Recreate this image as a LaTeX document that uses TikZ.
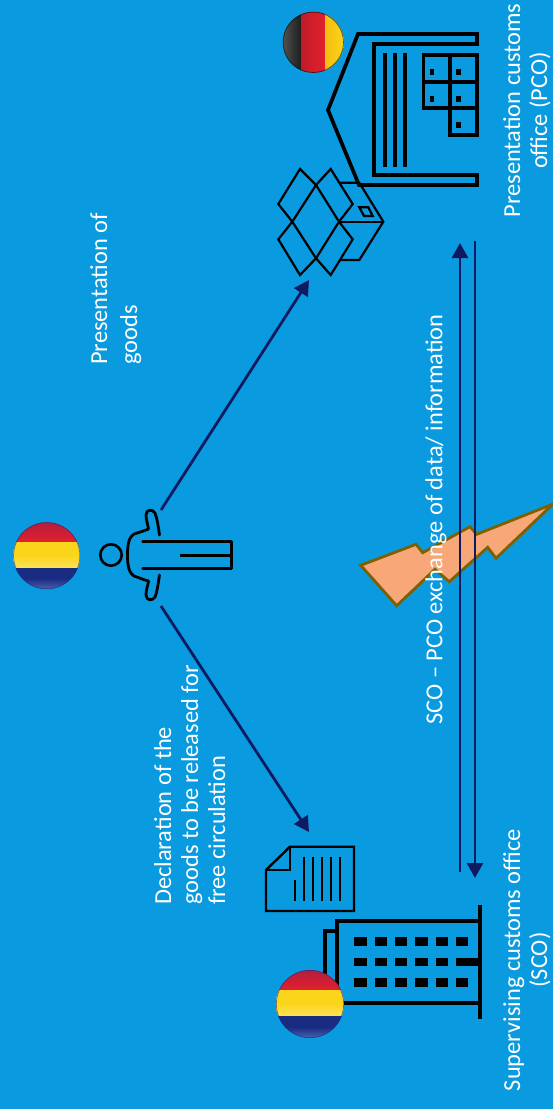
\documentclass[tikz,border=0pt]{standalone}
\usepackage{fontspec}
\setmainfont{Carlito}
\usetikzlibrary{arrows.meta}
\definecolor{bgblue}{HTML}{0A9ADF}
\definecolor{navy}{HTML}{101A60}
\definecolor{boltfill}{HTML}{F8A878}
\definecolor{boltline}{HTML}{7F6000}
\definecolor{fred}{HTML}{E3202E}
\definecolor{fdred}{HTML}{B51E3C}
\definecolor{fyel}{HTML}{FBD51C}
\definecolor{flyel}{HTML}{FCE45A}
\definecolor{fblu}{HTML}{1A2C82}
\definecolor{flblu}{HTML}{4A62B0}
\definecolor{fgold}{HTML}{F5BE12}
\definecolor{fblk}{HTML}{1A1A1A}
\tikzset{
  x=1pt,y=-1pt,
  icon/.style={draw=black,line width=3.7pt,line join=miter},
  thin icon/.style={draw=black,line width=2.2pt,line join=miter},
  doc line/.style={draw=black,line width=2.4pt},
  person line/.style={draw=black,line width=2.8pt,line cap=round,line join=round},
  flow/.style={draw=navy,line width=2.8pt,-{Triangle[length=15pt,width=16pt]}},
  label/.style={text=white,rotate=90,font=\fontsize{24.4}{30}\selectfont,inner sep=0pt},
}
\newcommand{\romflag}[3]{%
  \begin{scope}
    \clip (#1,#2) circle[radius=#3];
    \shade[top color=fdred,bottom color=fred] (#1-#3,#2-#3) rectangle (#1+#3,#2-.39*#3);
    \shade[top color=fyel,bottom color=flyel,middle color=fyel] (#1-#3,#2-.39*#3) rectangle (#1+#3,#2+.37*#3);
    \shade[top color=fblu,bottom color=flblu,middle color=fblu] (#1-#3,#2+.37*#3) rectangle (#1+#3,#2+#3);
    \draw[fblu,opacity=.6,line width=1.4pt] (#1,#2) circle[radius=#3];
  \end{scope}}
\begin{document}
\begin{tikzpicture}
\useasboundingbox (0,0) rectangle (553,1109);
\fill[bgblue] (0,0) rectangle (553,1109);

% anchors of the connectors
\coordinate (personUp) at (161,510);
\coordinate (boxEnd) at (309,280);
\coordinate (personDown) at (161,606);
\coordinate (docEnd) at (309,832);
\coordinate (pcoA) at (460,243);
\coordinate (scoA) at (460,872);
\coordinate (pcoB) at (475,241);
\coordinate (scoB) at (475,878);

% lightning
\draw[fill=boltfill,draw=boltline,line width=2.8pt,line join=miter]
  (360.7,565.3)--(416,544.3)--(422.7,552.7)--(470,526.7)--(476.7,534.3)--(553,504)
  --(496,558.3)--(487.7,547.3)--(449.3,581.7)--(435,569.3)--(396.7,605.7)--cycle;

% flows
\draw[flow] (personUp) -- (boxEnd);
\draw[flow] (personDown) -- (docEnd);
\draw[flow] (scoA) -- (pcoA);
\draw[flow] (pcoB) -- (scoB);

% flags
\romflag{46.7}{555.7}{33.5}
% presentation customs office
\draw[icon] (477,34)--(358,34)--(328,110)--(359,185)--(477,185)--(477,175)--(374,175)--(374,44)--(477,44)--cycle;
\foreach \bx in {385,395,405} \draw[black,line width=4.2pt] (\bx,53)--(\bx,167);
\draw[icon] (423.5,55) rectangle (477,108.3);
\draw[icon] (450,55)--(450,135)--(477,135)--(477,108.3);
\draw[icon] (423.5,81.7)--(477,81.7);
\foreach \wx/\wy in {431.7/72,458.3/72,431.7/98.7,458.3/98.7,458.3/125.3}
  \fill[black] (\wx-2.2,\wy-3) rectangle (\wx+2.2,\wy+3);
% German flag
\begin{scope}
  \clip (313.3,42.3) circle[radius=30.5];
  \shade[left color=black!65,right color=fblk] (280,10) rectangle (301.7,75);
  \shade[left color=fred!85!black,right color=fred] (301.7,10) rectangle (325,75);
  \shade[left color=fgold,right color=fyel] (325,10) rectangle (345,75);
  \draw[black,opacity=.6,line width=1.4pt] (313.3,42.3) circle[radius=30.5];
\end{scope}

% open box
\draw[thin icon] (292.3,221.7)--(316,185)--(339,221.7)--(316,258.3)--cycle;
\draw[thin icon] (316,185)--(300,169)--(278.3,204)--(292.3,221.7);
\draw[thin icon] (316,185)--(330.7,169)--(352.7,204)--(339,221.7);
\draw[thin icon] (292.3,221.7)--(278.3,239.3)--(300,275)--(316,258.3);
\draw[thin icon] (339,221.7)--(352.7,239.3)--(330.7,275)--(316,258.3);
\draw[thin icon] (340,182.7)--(359.3,182.7)--(383.3,221.7)--(359.3,260)--(340,260);
\draw[thin icon] (339,221.7)--(383.3,221.7);
\draw[thin icon] (359.3,207.3)--(368.3,207.3)--(372.7,216)--(364,216)--cycle;

% person
\draw[black,line width=2.6pt] (111,555) circle[radius=10.7];
\draw[person line] (142.7,541.7)--(231.7,541.7)--(231.7,568.3)--(142.7,568.3);
\draw[person line,line cap=butt] (180,555.3)--(231.7,555.3);
\draw[person line]
  (159.5,535) .. controls (158,525) and (157,518) .. (155,513)
  .. controls (153,509) and (146,509) .. (146,515)
  .. controls (146,520) and (148,525) .. (148.5,529)
  .. controls (144,531) and (140,532) .. (134,534)
  .. controls (129,537) and (127.5,544) .. (127.5,555)
  .. controls (127.5,566) and (129,573) .. (134,576)
  .. controls (140,578) and (144,580) .. (148.5,581)
  .. controls (148,585) and (146,590) .. (146,595)
  .. controls (146,601) and (153,601) .. (155,597)
  .. controls (157,592) and (158,585) .. (159.5,575);

% document
\draw[doc line,line join=miter] (266,870)--(290,846.7)--(354,846.7)--(354,911)--(266,911)--cycle;
\draw[doc line,line join=miter] (266,870)--(290,870)--(290,846.7);
\draw[doc line] (295,880)--(295,901);
\foreach \dx in {304,313,322,331,340} \draw[doc line] (\dx,856.7)--(\dx,901);

% supervising customs office
\draw[icon] (480,921)--(337.3,921)--(337.3,1002.7)--(480,1002.7);
\draw[icon] (337.3,930.7)--(325,930.7)--(325,993)--(337.3,993);
\draw[black,line width=4.2pt] (480.3,905)--(480.3,1019);
\foreach \wy in {941.3,961.7,982.3}
  \foreach \wx in {360.3,380.7,401,421.3,441.7,462}
    \fill[black] (\wx-6.2,\wy-4.2) rectangle (\wx+6.2,\wy+4.2);
\fill[black] (456,957.5) rectangle (480,965.8);
\romflag{310}{1004}{34}

% labels
\node[label,align=center,font=\fontsize{24.4}{27}\selectfont] (pcoLabel) at (527,110.5) {Presentation customs\\office (PCO)};
\node[label,align=left,anchor=north west] (presLabel) at (90,365) {Presentation of\\goods};
\node[label,align=left,anchor=north west,font=\fontsize{24.4}{27}\selectfont] (declLabel) at (154,905) {Declaration of the\\goods to be released for\\free circulation};
\node[label,align=center,font=\fontsize{24.4}{27}\selectfont] (scoLabel) at (527,960) {Supervising customs office\\(SCO)};
\node[label] (exchLabel) at (436,519.5) {SCO – PCO exchange of data/ information};
\end{tikzpicture}
\end{document}
